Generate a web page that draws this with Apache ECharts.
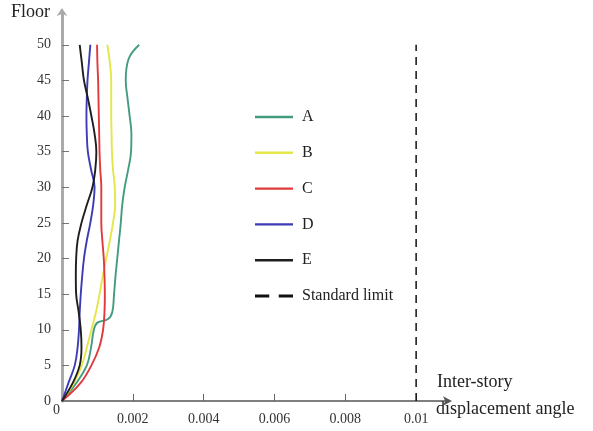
<!DOCTYPE html>
<html><head><meta charset="utf-8">
<script src="https://cdn.jsdelivr.net/npm/echarts@6/dist/echarts.min.js"></script>
<style>html,body{margin:0;padding:0;background:#fff}#c{width:593px;height:431px}</style>
</head><body><div id="c"></div>
<script>
const floors = [0,2.5,5,7.5,10,12.5,15,17.5,20,22.5,25,27.5,30,32.5,35,37.5,40,42.5,45,47.5,50];
const floorsA = [0,2.5,5,7.5,10,11,11.5,12.5,15,17.5,20,22.5,25,27.5,30,32.5,35,37.5,40,42.5,45,48,50];
const valuesA = [0,0.0004,0.0007,0.00082,0.0009,0.001,0.0013,0.00142,0.00147,0.00151,0.00156,0.00161,0.00166,0.0017,0.00177,0.00187,0.00195,0.00196,0.00191,0.00185,0.0018,0.00188,0.00218];
const valuesB = [0,0.00033,0.00056,0.0007,0.00083,0.00096,0.00106,0.00115,0.00125,0.00135,0.00144,0.0015,0.00149,0.00144,0.00141,0.0014,0.00139,0.00139,0.00139,0.00135,0.00128];
const valuesC = [0,0.00052,0.00083,0.00105,0.00116,0.0012,0.00121,0.0012,0.00118,0.00114,0.00111,0.00111,0.00111,0.00108,0.00106,0.00105,0.00104,0.00103,0.00102,0.001,0.00099];
const valuesD = [0,0.00018,0.00036,0.00044,0.00048,0.0005,0.00053,0.00057,0.00062,0.0007,0.0008,0.00088,0.00092,0.00082,0.00073,0.0007,0.00069,0.0007,0.00072,0.00076,0.0008];
const valuesE = [0,0.0003,0.0005,0.00055,0.00053,0.00047,0.0004,0.00039,0.0004,0.00044,0.00055,0.0007,0.00086,0.00094,0.00097,0.00092,0.00083,0.00073,0.00062,0.00056,0.0005];
const limitValue = 0.01;
const limitFloors = [0,50];
const xTicks = [0.002,0.004,0.006,0.008,0.01];
const yTicks = [0,5,10,15,20,25,30,35,40,45,50];
const seriesNames = ['A','B','C','D','E','Standard limit'];
const colors = ['#449c80','#e4e64a','#e03a3c','#3c3cb4','#1e1e1e','#111111'];

function pairs(vals, fl){ return vals.map((v,i)=>[v, fl[i]]); }

const serif = '"Liberation Serif","DejaVu Serif",serif';
const chart = echarts.init(document.getElementById('c'), null, {renderer:'canvas'});
const dataSets = [pairs(valuesA,floorsA),pairs(valuesB,floors),pairs(valuesC,floors),pairs(valuesD,floors),pairs(valuesE,floors)];
const series = dataSets.map((d,i)=>({
  name: seriesNames[i], type:'line', data:d, smooth:0.4, symbol:'none',
  lineStyle:{color:colors[i], width:1.9}, itemStyle:{color:colors[i]}, z:3
}));
series.push({
  name: seriesNames[5], type:'line', data: limitFloors.map(f=>[limitValue,f]), symbol:'none',
  lineStyle:{color:colors[5], width:1.5, type:[8,6]}, itemStyle:{color:colors[5]}
});
const solidIcon = 'path://M0,0h38v2.4h-38z';
const dashIcon = 'path://M0,0h12v2.4h-12z M20,0h12v2.4h-12z';
chart.setOption({
  animation:false,
  grid:{left:62, right:145, top:12, bottom:30},
  xAxis:{type:'value', min:0, max:0.0109,
    axisLine:{lineStyle:{color:'#555', width:1.5}, symbol:['none','arrow'], symbolSize:[7,9], symbolOffset:[0,4]},
    axisTick:{inside:true, length:7, customValues:xTicks, lineStyle:{color:'#666'}},
    axisLabel:{customValues:xTicks, margin:11, color:'#333', fontFamily:serif, fontSize:14,
      formatter:v=> String(+v.toFixed(3))},
    splitLine:{show:false}},
  yAxis:{type:'value', min:0, max:54.6,
    axisLine:{lineStyle:{color:'#aaa', width:3}, symbol:['none','arrow'], symbolSize:[8,8], symbolOffset:[0,4]},
    axisTick:{inside:true, length:7, customValues:yTicks.slice(1), lineStyle:{color:'#777'}},
    axisLabel:{customValues:yTicks, margin:11, color:'#333', fontFamily:serif, fontSize:14},
    splitLine:{show:false}},
  legend:{orient:'vertical', left:250, top:104, itemWidth:38, itemHeight:16, itemGap:19.8,
    data:seriesNames.map((n,i)=>({name:n, icon: i===5 ? dashIcon : solidIcon})),
    textStyle:{fontFamily:serif, fontSize:16, color:'#222', padding:[0,0,0,4]}},
  graphic:[
    {type:'text', left:11, top:3, style:{text:'Floor', font:'18px '+serif, fill:'#222'}},
    {type:'text', left:53, top:403, style:{text:'0', font:'14px '+serif, fill:'#333'}},
    {type:'text', left:437, top:373, style:{text:'Inter-story', font:'18px '+serif, fill:'#222'}},
    {type:'text', left:436, top:400, style:{text:'displacement angle', font:'18px '+serif, fill:'#222'}}
  ],
  series:series
});
</script></body></html>
